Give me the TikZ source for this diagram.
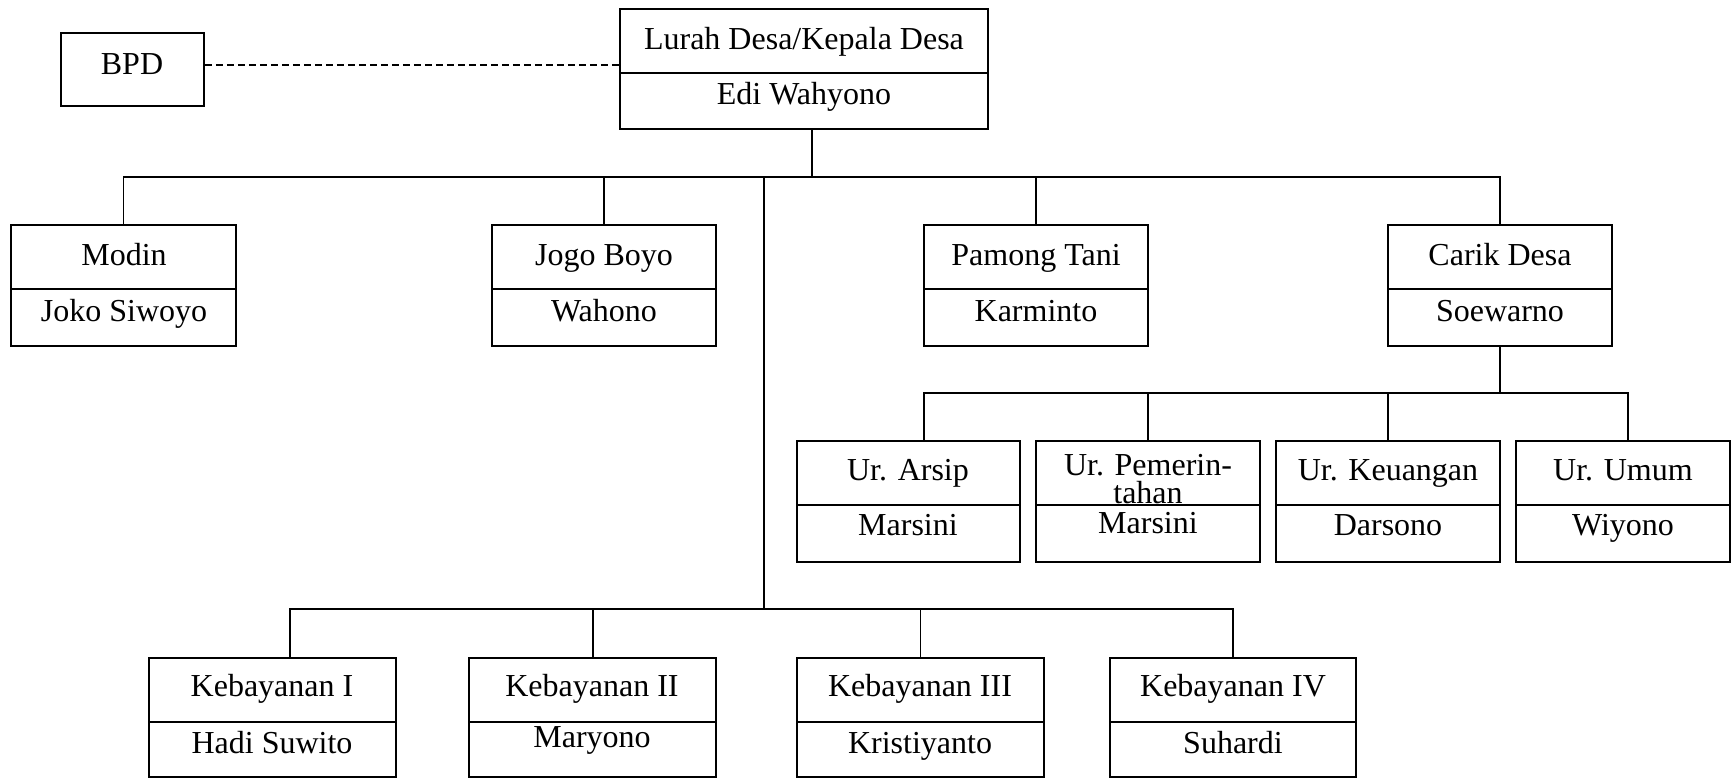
\documentclass[tikz,border=0pt]{standalone}
\usepackage{fontspec}
\setmainfont{Liberation Serif}
\usetikzlibrary{fit}
\begin{document}
\begin{tikzpicture}[x=0.5pt,y=-0.5pt,
  boxst/.style={draw, line width=0.8pt, inner sep=0pt},
  txt/.style={anchor=base, inner sep=0pt, font=\fontsize{16}{19}\selectfont},
  conn/.style={line width=0.75pt},
  dashconn/.style={line width=0.75pt, dash pattern=on 3.5pt off 2pt}]
\useasboundingbox (0,0) rectangle (1731,778);

% boxes
\node[boxst, fit={(61,33) (204,106)}] (bpd) {};
\node[txt] (bpd-t) at (132,74) {BPD};

\node[boxst, fit={(620,9) (988,129)}] (kep) {};
\draw[conn] (kep.west |- 0,73) -- (kep.east |- 0,73);
\node[txt] (kep-t1) at (804,49) {Lurah Desa/Kepala Desa};
\node[txt] (kep-t2) at (804,104) {Edi Wahyono};

\node[boxst, fit={(11,225) (236,346)}] (modin) {};
\draw[conn] (modin.west |- 0,289) -- (modin.east |- 0,289);
\node[txt] (modin-t1) at (124,265) {Modin};
\node[txt] (modin-t2) at (124,321) {Joko Siwoyo};

\node[boxst, fit={(492,225) (716,346)}] (jogo) {};
\draw[conn] (jogo.west |- 0,289) -- (jogo.east |- 0,289);
\node[txt] (jogo-t1) at (604,265) {Jogo Boyo};
\node[txt] (jogo-t2) at (604,321) {Wahono};

\node[boxst, fit={(924,225) (1148,346)}] (pamong) {};
\draw[conn] (pamong.west |- 0,289) -- (pamong.east |- 0,289);
\node[txt] (pamong-t1) at (1036,265) {Pamong Tani};
\node[txt] (pamong-t2) at (1036,321) {Karminto};

\node[boxst, fit={(1388,225) (1612,346)}] (carik) {};
\draw[conn] (carik.west |- 0,289) -- (carik.east |- 0,289);
\node[txt] (carik-t1) at (1500,265) {Carik Desa};
\node[txt] (carik-t2) at (1500,321) {Soewarno};

\node[boxst, fit={(797,441) (1020,562)}] (arsip) {};
\draw[conn] (arsip.west |- 0,505) -- (arsip.east |- 0,505);
\node[txt] (arsip-t1) at (908,480) {Ur. Arsip};
\node[txt] (arsip-t2) at (908,535) {Marsini};

\node[boxst, fit={(1036,441) (1260,562)}] (pem) {};
\draw[conn] (pem.west |- 0,505) -- (pem.east |- 0,505);
\node[txt] (pem-t1) at (1148,475) {Ur. Pemerin-};
\node[txt] (pem-t1b) at (1148,503) {tahan};
\node[txt] (pem-t2) at (1148,533) {Marsini};

\node[boxst, fit={(1276,441) (1500,562)}] (keu) {};
\draw[conn] (keu.west |- 0,505) -- (keu.east |- 0,505);
\node[txt] (keu-t1) at (1388,480) {Ur. Keuangan};
\node[txt] (keu-t2) at (1388,535) {Darsono};

\node[boxst, fit={(1516,441) (1730,562)}] (umum) {};
\draw[conn] (umum.west |- 0,505) -- (umum.east |- 0,505);
\node[txt] (umum-t1) at (1623,480) {Ur. Umum};
\node[txt] (umum-t2) at (1623,535) {Wiyono};

\node[boxst, fit={(149,658) (396,777)}] (kebI) {};
\draw[conn] (kebI.west |- 0,722) -- (kebI.east |- 0,722);
\node[txt] (kebI-t1) at (272,696) {Kebayanan I};
\node[txt] (kebI-t2) at (272,753) {Hadi Suwito};

\node[boxst, fit={(469,658) (716,777)}] (kebII) {};
\draw[conn] (kebII.west |- 0,722) -- (kebII.east |- 0,722);
\node[txt] (kebII-t1) at (592,696) {Kebayanan II};
\node[txt] (kebII-t2) at (592,747) {Maryono};

\node[boxst, fit={(797,658) (1044,777)}] (kebIII) {};
\draw[conn] (kebIII.west |- 0,722) -- (kebIII.east |- 0,722);
\node[txt] (kebIII-t1) at (920,696) {Kebayanan III};
\node[txt] (kebIII-t2) at (920,753) {Kristiyanto};

\node[boxst, fit={(1110,658) (1356,777)}] (kebIV) {};
\draw[conn] (kebIV.west |- 0,722) -- (kebIV.east |- 0,722);
\node[txt] (kebIV-t1) at (1233,696) {Kebayanan IV};
\node[txt] (kebIV-t2) at (1233,753) {Suhardi};

% connectors
\coordinate (barL) at (124,177);
\coordinate (barR) at (1500,177);
\coordinate (trunkTop) at (764,177);
\coordinate (trunkBot) at (764,609);
\coordinate (subBar) at (1500,393);

\draw[dashconn] (bpd.east |- 0,65) -- (kep.west |- 0,65);
\draw[conn] (812,0 |- kep.south) -- (812,0 |- barL);
\draw[conn] (modin.north) -- (modin.center |- barL) -- (carik.center |- barL) -- (carik.north);
\draw[conn] (jogo.north) -- (jogo.center |- barL);
\draw[conn] (pamong.north) -- (pamong.center |- barL);
\draw[conn] (trunkTop) -- (trunkBot);

\draw[conn] (carik.south) -- (subBar);
\draw[conn] (924,0 |- arsip.north) -- (924,0 |- subBar) -- (1628,0 |- subBar) -- (1628,0 |- umum.north);
\draw[conn] (pem.north) -- (pem.center |- subBar);
\draw[conn] (keu.north) -- (keu.center |- subBar);

\draw[conn] (290,0 |- kebI.north) -- (290,0 |- trunkBot) -- (kebIV.center |- trunkBot) -- (kebIV.north);
\draw[conn] (593,0 |- kebII.north) -- (593,0 |- trunkBot);
\draw[conn] (kebIII.north) -- (kebIII.center |- trunkBot);
\end{tikzpicture}
\end{document}
